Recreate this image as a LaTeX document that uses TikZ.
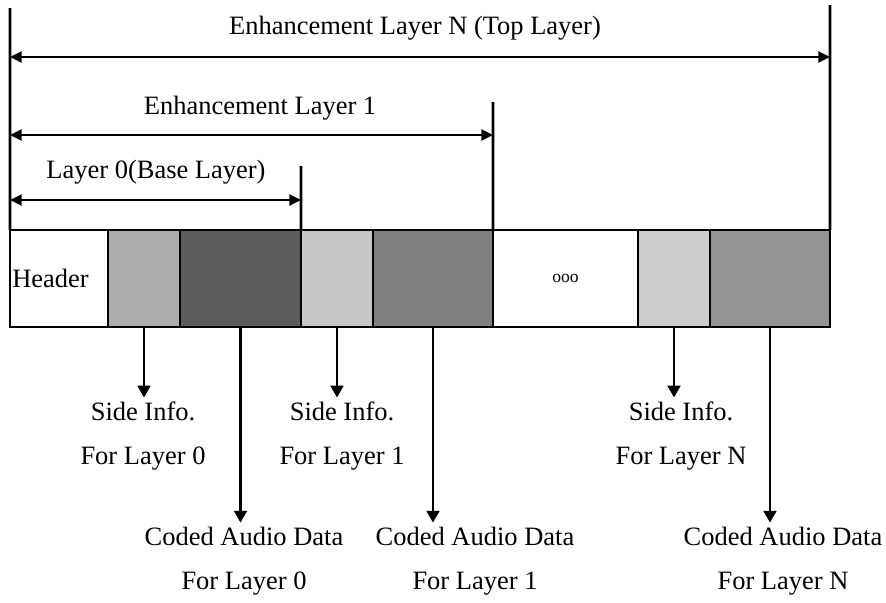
\documentclass[tikz,border=0pt]{standalone}
\usepackage{fontspec}
\setmainfont{Liberation Serif}
\usetikzlibrary{arrows.meta}
\definecolor{sidegray}{gray}{0.68}
\definecolor{codegray}{gray}{0.36}
\definecolor{sidelight}{gray}{0.78}
\definecolor{codemid}{gray}{0.50}
\definecolor{sidelightN}{gray}{0.80}
\definecolor{codemidN}{gray}{0.58}
\begin{document}
\begin{tikzpicture}[x=0.03cm, y=-0.03cm, font=\fontsize{22.6}{38}\selectfont]
			\tikzstyle{cell} = [draw, rectangle, line width=2.2pt, inner sep=0pt, outer sep=0pt, minimum height=2.91cm]
			\tikzstyle{dim} = [{Triangle[length=10pt,width=9.5pt]}-{Triangle[length=10pt,width=9.5pt]}, line width=1.8pt]
			\tikzstyle{down} = [-{Triangle[length=10pt,width=11pt]}, line width=1.8pt]
			\tikzstyle{tick} = [line width=2.2pt]
			\useasboundingbox (0,0) rectangle (886,602);
			\node[cell, fill=white, minimum width=2.94cm, text width=2.8cm, align=left, inner xsep=0.07cm] (H) at (59, 278.5) {Header};
			\node[cell, fill=sidegray, minimum width=2.16cm] (S0) at (144, 278.5) {};
			\node[cell, fill=codegray, minimum width=3.63cm] (C0) at (240.5, 278.5) {};
			\node[cell, fill=sidelight, minimum width=2.16cm] (S1) at (337, 278.5) {};
			\node[cell, fill=codemid, minimum width=3.6cm] (C1) at (433, 278.5) {};
			\node[cell, fill=white, minimum width=4.35cm, font=\fontsize{15}{18}\selectfont] (D) at (565.5, 278.5) {ooo};
			\node[cell, fill=sidelightN, minimum width=2.16cm] (SN) at (674, 278.5) {};
			\node[cell, fill=codemidN, minimum width=3.6cm] (CN) at (770, 278.5) {};
			\coordinate (T) at (10, 8);
			\coordinate (T0) at (301, 166);
			\coordinate (T1) at (493, 102);
			\coordinate (TN) at (830, 5);
			\draw[tick] (T) -- (H.north west);
			\draw[tick] (T0) -- (C0.north east);
			\draw[tick] (T1) -- (C1.north east);
			\draw[tick] (TN) -- (CN.north east);
			\node (EN) at (415, 28) {Enhancement Layer N (Top Layer)};
			\node (E1) at (260, 108) {Enhancement Layer 1};
			\node (B) at (156, 172) {Layer 0(Base Layer)};
			\draw[dim] (T |- 0,57) -- (TN |- 0,57);
			\draw[dim] (T |- 0,135) -- (T1 |- 0,135);
			\draw[dim] (T |- 0,200) -- (T0 |- 0,200);
			\node[align=center] (I0) at (143, 436) {Side Info.\\For Layer 0};
			\node[align=center] (I1) at (342, 436) {Side Info.\\For Layer 1};
			\node[align=center] (IN) at (681, 436) {Side Info.\\For Layer N};
			\node[align=center] (A0) at (244, 561) {Coded Audio Data\\For Layer 0};
			\node[align=center] (A1) at (475, 561) {Coded Audio Data\\For Layer 1};
			\node[align=center] (AN) at (783, 561) {Coded Audio Data\\For Layer N};
			\draw[down] (S0.south) -- (S0.south |- I0.north);
			\draw[down] (S1.south) -- (S1.south |- I1.north);
			\draw[down] (SN.south) -- (SN.south |- IN.north);
			\draw[down] (C0.south) -- (C0.south |- A0.north);
			\draw[down] (C1.south) -- (C1.south |- A1.north);
			\draw[down] (CN.south) -- (CN.south |- AN.north);
\end{tikzpicture}
\end{document}
